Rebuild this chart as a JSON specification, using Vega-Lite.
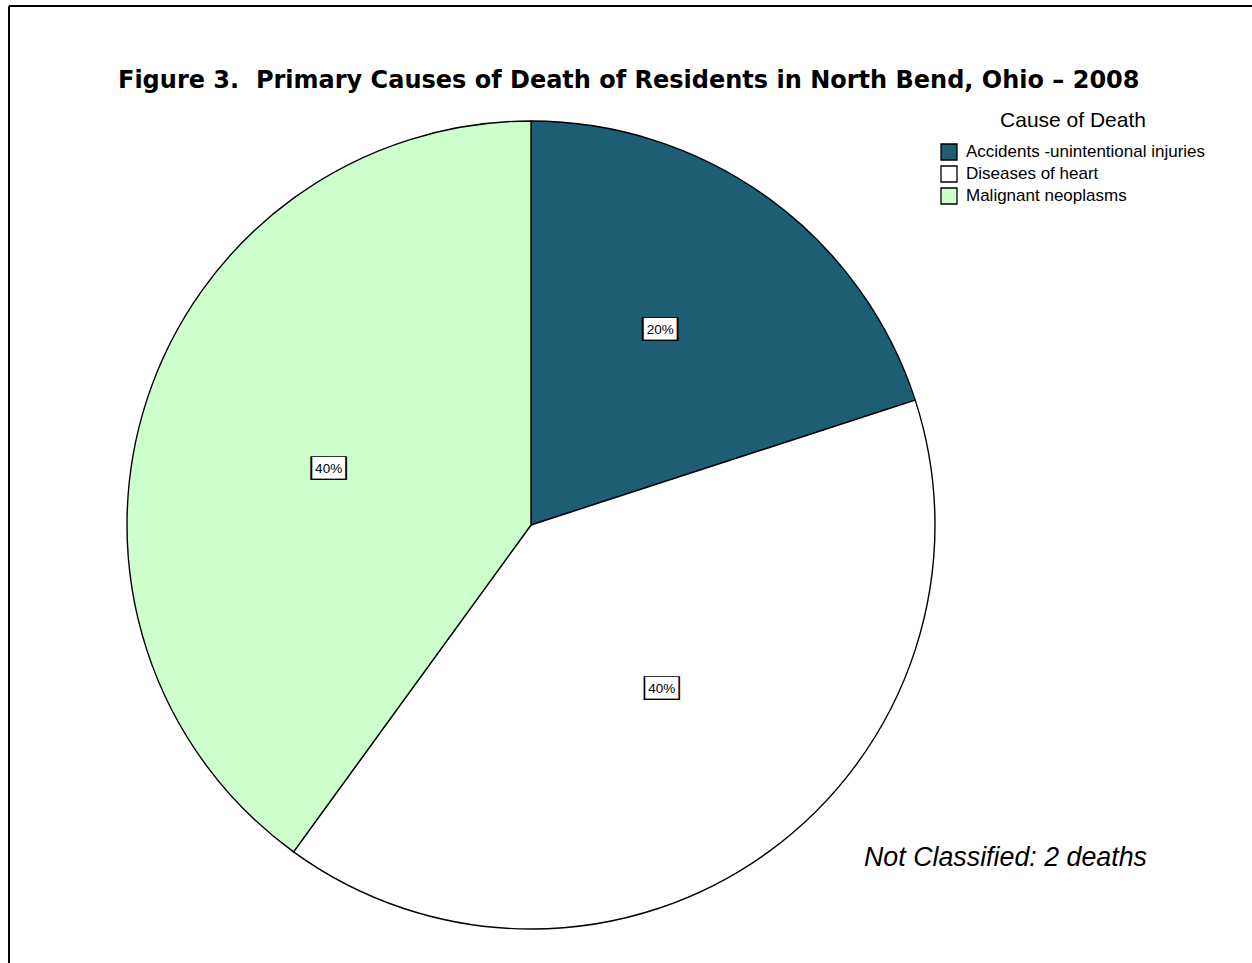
{
  "$schema": "https://vega.github.io/schema/vega-lite/v6.json",
  "background": "white",
  "padding": {"left": 8, "top": 5, "right": 0, "bottom": 0},
  "title": {
    "text": "Figure 3.\u00a0 Primary Causes of Death of Residents in North Bend, Ohio – 2008",
    "anchor": "start",
    "frame": "group",
    "dx": 109,
    "offset": -88,
    "font": "DejaVu Sans",
    "fontWeight": 900,
    "fontSize": 24,
    "color": "black"
  },
  "spacing": 0,
  "bounds": "flush",
  "hconcat": [
    {
      "width": 1044,
      "height": 1038,
      "view": {"stroke": "black", "strokeWidth": 2, "strokeDash": [1044, 2082, 1038, 0]},
      "title": {
        "text": "Not Classified: 2 deaths",
        "orient": "bottom",
        "anchor": "start",
        "frame": "group",
        "dx": 855,
        "offset": -199,
        "font": "Liberation Sans",
        "fontStyle": "italic",
        "fontWeight": "normal",
        "fontSize": 26.8,
        "color": "black"
      },
      "data": {
        "values": [
          {"cause": "Accidents -unintentional injuries", "pct": 0.2},
          {"cause": "Diseases of heart", "pct": 0.4},
          {"cause": "Malignant neoplasms", "pct": 0.4}
        ]
      },
      "encoding": {
        "theta": {"field": "pct", "type": "quantitative", "stack": true}
      },
      "layer": [
        {
          "mark": {"type": "arc", "outerRadius": 404, "stroke": "black", "strokeWidth": 1.4},
          "encoding": {
            "color": {
              "field": "cause",
              "type": "nominal",
              "scale": {
                "domain": ["Accidents -unintentional injuries", "Diseases of heart", "Malignant neoplasms"],
                "range": ["#1D5E75", "#FFFFFF", "#CCFFCC"]
              },
              "legend": {
                "title": "Cause of Death",
                "orient": "none",
                "legendX": 931,
                "legendY": 104,
                "padding": 0,
                "titleFont": "Liberation Sans",
                "titleFontSize": 21,
                "titleFontWeight": "normal",
                "titleColor": "black",
                "titleAnchor": "middle",
                "titleAlign": "center",
                "titlePadding": 12,
                "labelFont": "Liberation Sans",
                "labelFontSize": 17,
                "labelLimit": 500,
                "labelColor": "black",
                "labelOffset": 8,
                "symbolType": "square",
                "symbolSize": 256,
                "symbolStrokeColor": "black",
                "symbolStrokeWidth": 1.3,
                "rowPadding": 0
              }
            }
          }
        },
        {
          "mark": {"type": "text", "thetaOffset": -0.0436, "font": "DejaVu Sans Mono", "fontSize": 20, "align": "center", "baseline": "middle", "text": "███"},
          "encoding": {
            "radius": {"field": "pct", "type": "quantitative", "scale": {"type": "linear", "zero": false, "domain": [0.2, 0.4], "range": [234, 210]}},
            "color": {"value": "black"},
            "detail": {"field": "cause", "type": "nominal"}
          }
        },
        {
          "mark": {"type": "text", "thetaOffset": -0.0436, "font": "DejaVu Sans Mono", "fontSize": 18, "align": "center", "baseline": "middle", "text": "███"},
          "encoding": {
            "radius": {"field": "pct", "type": "quantitative", "scale": {"type": "linear", "zero": false, "domain": [0.2, 0.4], "range": [234, 210]}},
            "color": {"value": "white"},
            "detail": {"field": "cause", "type": "nominal"}
          }
        },
        {
          "mark": {"type": "text", "thetaOffset": -0.0436, "font": "Liberation Sans", "fontSize": 13.5, "align": "center", "baseline": "middle"},
          "encoding": {
            "radius": {"field": "pct", "type": "quantitative", "scale": {"type": "linear", "zero": false, "domain": [0.2, 0.4], "range": [234, 210]}},
            "text": {"field": "pct", "type": "quantitative", "format": ".0%"},
            "color": {"value": "black"},
            "detail": {"field": "cause", "type": "nominal"}
          }
        }
      ]
    },
    {
      "width": 199,
      "height": 1038,
      "view": {"stroke": "black", "strokeWidth": 2, "strokeDash": [199, 4000]},
      "data": {"values": []},
      "mark": "text",
      "encoding": {}
    }
  ]
}
